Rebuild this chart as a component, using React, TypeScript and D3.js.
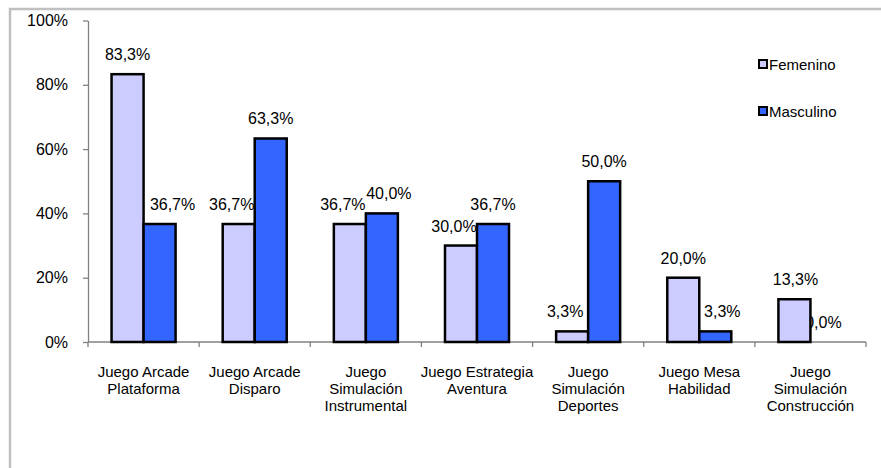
import React, { useEffect, useRef } from 'react';
import * as d3 from 'd3';

const categories = [
  'Juego Arcade Plataforma',
  'Juego Arcade Disparo',
  'Juego Simulación Instrumental',
  'Juego Estrategia Aventura',
  'Juego Simulación Deportes',
  'Juego Mesa Habilidad',
  'Juego Simulación Construcción',
];
const categoryLines = [
  ['Juego Arcade', 'Plataforma'],
  ['Juego Arcade', 'Disparo'],
  ['Juego', 'Simulación', 'Instrumental'],
  ['Juego Estrategia', 'Aventura'],
  ['Juego', 'Simulación', 'Deportes'],
  ['Juego Mesa', 'Habilidad'],
  ['Juego', 'Simulación', 'Construcción'],
];
const seriesNames = ['Femenino', 'Masculino'];
const femenino = [0.833, 0.367, 0.367, 0.3, 0.033, 0.2, 0.133];
const masculino = [0.367, 0.633, 0.4, 0.367, 0.5, 0.033, 0.0];
const yTicks = [0, 0.2, 0.4, 0.6, 0.8, 1];

// small manual nudges for the data labels (as in the original)
const femLabelDx = [0, -7, -7, -7, -7, 0, 1];
const mascLabelDx = [13, 0, 7, 0, 0, 7, -3];

const colors = ['#CCCCFF', '#3366FF'];
const fmt = (v: number) => (v * 100).toFixed(1).replace('.', ',') + '%';

const App: React.FC = () => {
  const svgRef = useRef<SVGSVGElement>(null);

  useEffect(() => {
    document.body.style.margin = '0';
    if (!svgRef.current) return;
    const width = 881;
    const height = 468;
    const svg = d3.select(svgRef.current);
    svg.selectAll('*').remove();

    const font = 'Arial, "Liberation Sans", sans-serif';

    // outer frame
    svg.append('rect')
      .attr('x', 10).attr('y', 9)
      .attr('width', width + 20).attr('height', height + 20)
      .attr('fill', 'white')
      .attr('stroke', '#c0c0c0')
      .attr('stroke-width', 2.5);

    const x0 = d3.scaleBand<string>()
      .domain(categories)
      .range([88, 866]);
    const bw = x0.bandwidth();
    const x1 = d3.scaleBand<string>()
      .domain(seriesNames)
      .range([bw * 0.212, bw * 0.788]);

    const y = d3.scaleLinear().domain([0, 1]).range([342, 20.5]);

    // y axis
    const yAxis = svg.append('g')
      .attr('transform', 'translate(88,0)')
      .call(d3.axisLeft(y).tickValues(yTicks).tickSize(5).tickSizeOuter(0).tickFormat(d => `${Math.round(+d * 100)}%`));
    yAxis.select('.domain').attr('stroke', '#808080').attr('stroke-width', 1.3);
    yAxis.selectAll('.tick line').attr('stroke', '#808080').attr('stroke-width', 1.3);
    yAxis.selectAll('.tick text')
      .attr('x', -20)
      .attr('fill', '#000')
      .attr('font-family', font)
      .attr('font-size', 16);

    // x axis
    const xg = svg.append('g').attr('transform', `translate(0,${y(0)})`);
    xg.append('line')
      .attr('x1', 88).attr('x2', 866)
      .attr('stroke', '#808080').attr('stroke-width', 1.3);
    const bounds = categories.map(c => x0(c)!).concat([x0(categories[categories.length - 1])! + bw]);
    xg.selectAll('line.tk')
      .data(bounds)
      .join('line')
      .attr('class', 'tk')
      .attr('x1', d => d).attr('x2', d => d)
      .attr('y1', 0).attr('y2', 5)
      .attr('stroke', '#808080').attr('stroke-width', 1.3);

    // category labels
    categories.forEach((c, i) => {
      const t = svg.append('text')
        .attr('x', x0(c)! + bw / 2)
        .attr('y', 376.5)
        .attr('text-anchor', 'middle')
        .attr('font-family', font)
        .attr('font-size', 15)
        .attr('fill', '#000');
      categoryLines[i].forEach((ln, j) => {
        t.append('tspan')
          .attr('x', x0(c)! + bw / 2)
          .attr('dy', j === 0 ? 0 : 17.3)
          .text(ln);
      });
    });

    const series = [femenino, masculino];
    const dxs = [femLabelDx, mascLabelDx];

    // data labels (drawn under bars)
    series.forEach((vals, s) => {
      svg.append('g').selectAll('text')
        .data(vals)
        .join('text')
        .attr('x', (d, i) => x0(categories[i])! + x1(seriesNames[s])! + x1.bandwidth() / 2 + dxs[s][i])
        .attr('y', d => y(d) - 14)
        .attr('text-anchor', 'middle')
        .attr('font-family', font)
        .attr('font-size', 16)
        .attr('fill', '#000')
        .text(d => fmt(d));
    });

    // bars
    series.forEach((vals, s) => {
      svg.append('g').selectAll('rect')
        .data(vals)
        .join('rect')
        .attr('x', (d, i) => x0(categories[i])! + x1(seriesNames[s])!)
        .attr('y', d => y(d))
        .attr('width', x1.bandwidth())
        .attr('height', d => y(0) - y(d))
        .attr('fill', colors[s])
        .attr('stroke', d => (d > 0 ? '#000' : 'none'))
        .attr('stroke-width', 2.5);
    });

    // legend
    const legendY = [64, 111];
    seriesNames.forEach((n, s) => {
      svg.append('rect')
        .attr('x', 759).attr('y', legendY[s] - 4)
        .attr('width', 8).attr('height', 8)
        .attr('fill', colors[s])
        .attr('stroke', '#000')
        .attr('stroke-width', 2);
      svg.append('text')
        .attr('x', 769)
        .attr('y', legendY[s] + 5.5)
        .attr('font-family', font)
        .attr('font-size', 15)
        .attr('fill', '#000')
        .text(n);
    });
  }, []);

  return <svg ref={svgRef} width={881} height={468} style={{ display: 'block' }} />;
};

export default App;
